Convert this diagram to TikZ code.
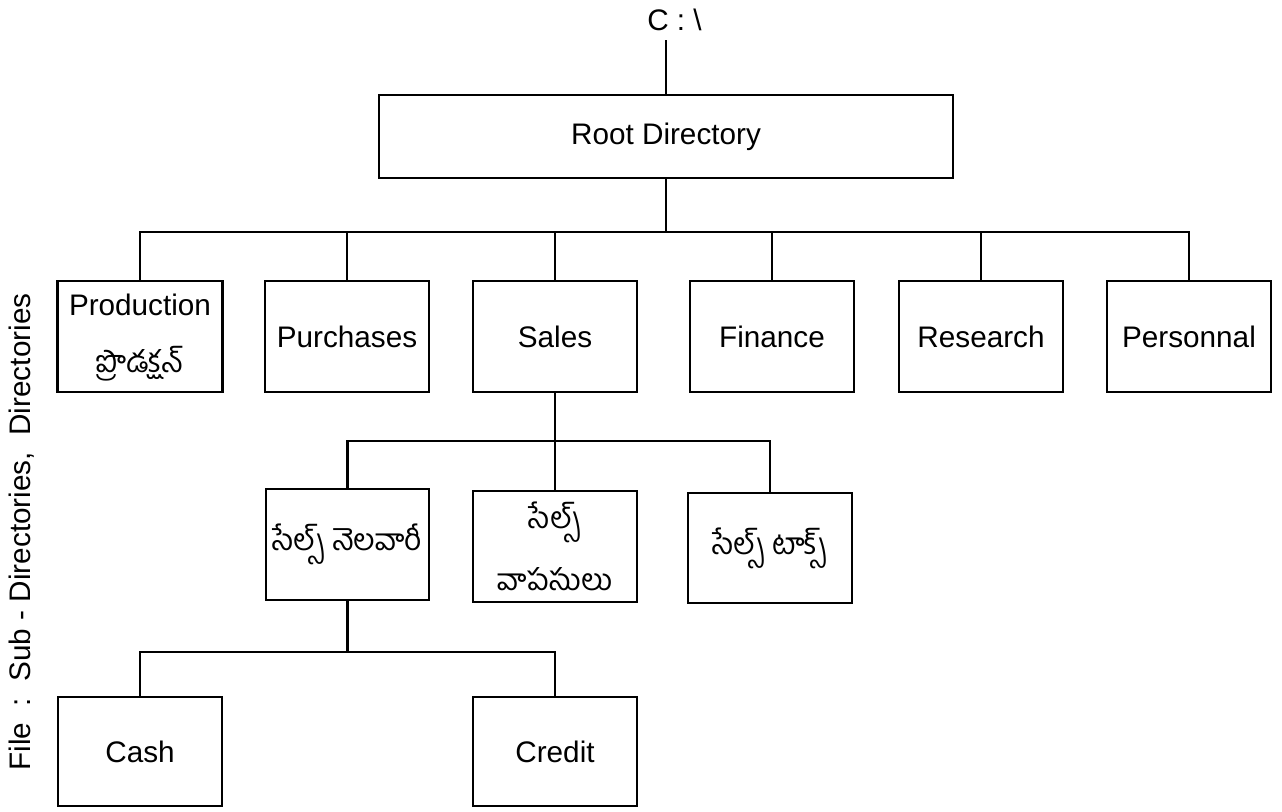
\documentclass[tikz,border=0pt]{standalone}
\usepackage{fontspec}
\setmainfont{Liberation Sans}
\newfontfamily\telugu[Script=Telugu]{Hind Guntur}
\begin{document}
\begin{tikzpicture}[x=1pt,y=-1pt,
  line width=2.5pt,
  every node/.style={font=\fontsize{29.7}{36}\selectfont},
  dirbox/.style={draw,line width=2.5pt,inner sep=0pt,align=center},
  tel/.style={font=\fontsize{30}{62}\selectfont\telugu},
  link/.style={line width=2.5pt}]
\useasboundingbox (0,0) rectangle (1282,811);

% drive and root
\node (drive) at (674.5,20) {C : \textbackslash};
\coordinate (drivefoot) at (666,40);
\node[dirbox,minimum width=574pt,minimum height=83pt] (root) at (666,136.5) {Root Directory};

% first level directories
\node[dirbox,minimum width=165pt,minimum height=111pt] (prod) at (140,336.5) {};
\node (prodtxt) at (140,305) {Production};
\node[tel] (prodtel) at (140,364) {ప్రొడక్షన్};
\node[dirbox,minimum width=164pt,minimum height=111pt] (purch) at (347,336.5) {Purchases};
\node[dirbox,minimum width=164pt,minimum height=111pt] (sales) at (555,336.5) {Sales};
\node[dirbox,minimum width=164pt,minimum height=111pt] (fin) at (772,336.5) {Finance};
\node[dirbox,minimum width=164pt,minimum height=111pt] (res) at (981,336.5) {Research};
\node[dirbox,minimum width=164pt,minimum height=111pt] (pers) at (1189,336.5) {Personnal};

% sub directories of Sales
\node[dirbox,minimum width=163pt,minimum height=111pt,tel] (monthly) at (347.5,544.5) {సేల్స్ నెలవారీ};
\node[dirbox,minimum width=164pt,minimum height=111pt,tel] (returns) at (555,546.5) {సేల్స్\\వాపసులు};
\node[dirbox,minimum width=164pt,minimum height=110pt,tel] (tax) at (770,548) {సేల్స్ టాక్స్};

% files of the monthly directory
\node[dirbox,minimum width=164pt,minimum height=109pt] (cash) at (140,751.5) {Cash};
\node[dirbox,minimum width=164pt,minimum height=109pt] (credit) at (555,751.5) {Credit};

% side caption
\node[rotate=90] (caption) at (22,532) {File \ :\ \ Sub - Directories,\ \ Directories};

% connectors
\draw[link] (drivefoot) -- (root.north);
\coordinate (busA) at (666,232);
\draw[link] (root.south) -- (busA);
\draw[link] (prod.north) |- (busA) -| (pers.north);
\foreach \n in {purch,sales,fin,res} \draw[link] (\n.north) -- (\n.north |- busA);

\coordinate (busB) at (555,441);
\draw[link] (sales.south) -- (busB);
\draw[link] (monthly.north) |- (busB) -| (tax.north);
\draw[link] (returns.north) -- (busB);

\coordinate (busC) at (347.5,652);
\draw[link] (monthly.south) -- (busC);
\draw[link] (cash.north) |- (busC) -| (credit.north);
\end{tikzpicture}
\end{document}
